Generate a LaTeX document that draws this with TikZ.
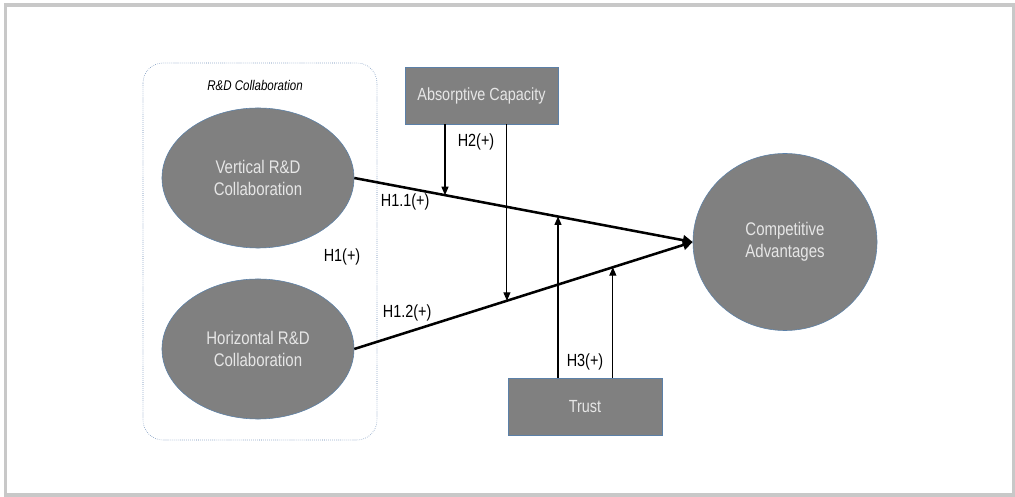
\documentclass[tikz,border=0pt]{standalone}
\usepackage{fontspec}
\setmainfont{Liberation Sans}[FakeStretch=0.82]
\usetikzlibrary{arrows.meta,shapes.geometric}
\definecolor{framegray}{HTML}{C8C8C8}
\definecolor{boxgray}{HTML}{808080}
\definecolor{edgeblue}{HTML}{5B80A8}
\definecolor{dotblue}{HTML}{5F82B0}
\definecolor{lighttext}{HTML}{E6E6E6}

\begin{document}
\begin{tikzpicture}[x=0.025cm,y=-0.025cm,
	construct/.style={draw=edgeblue,fill=boxgray,ellipse,text=lighttext,align=center,font=\fontsize{13}{15.6}\selectfont},
	measure/.style={draw=edgeblue,fill=boxgray,rectangle,text=lighttext,font=\fontsize{12.5}{15}\selectfont},
	hyp/.style={font=\fontsize{12.5}{14}\selectfont},
	main/.style={line width=1.8pt,-{Triangle[length=7pt,width=7pt]}},
	mod/.style={line width=0.8pt,-{Triangle[length=6pt,width=5pt]}}]
	\useasboundingbox (0,0) rectangle (1015,497);
	\draw[framegray,line width=2.2pt] (5.5,5) rectangle (1013.5,495);
	\draw[dotblue,densely dotted,rounded corners=0.5cm] (143,63) rectangle (377,440);
	\node[font=\itshape\fontsize{10}{12}\selectfont] (title) at (255,85) {R\&D Collaboration};

	\node[construct,minimum width=4.8cm,minimum height=3.5cm] (v) at (258,178) {Vertical R\&D\\Collaboration};
	\node[construct,minimum width=4.8cm,minimum height=3.5cm] (h) at (258,349) {Horizontal R\&D\\Collaboration};
	\node[construct,minimum width=4.6cm,minimum height=4.425cm] (ca) at (785,242) {Competitive\\Advantages};
	\node[measure,minimum width=3.825cm,minimum height=1.425cm] (ac) at (481.5,95.5) {Absorptive Capacity};
	\node[measure,minimum width=3.85cm,minimum height=1.425cm] (tr) at (585,406.5) {Trust};

	\draw[main] (v.east) -- (ca.west) coordinate[pos=0.268] (p1) coordinate[pos=0.602] (p3);
	\draw[main] (h.east) -- (ca.west) coordinate[pos=0.451] (p2) coordinate[pos=0.764] (p4);
	\draw[mod] (ac.south -| p1) -- (p1);
	\draw[mod] (ac.south -| p2) -- (p2);
	\draw[mod] (tr.north -| p3) -- (p3);
	\draw[mod] (tr.north -| p4) -- (p4);

	\node[hyp] (h2) at (476,142) {H2(+)};
	\node[hyp,anchor=west] (h11) at (376,202) {H1.1(+)};
	\node[hyp] (h1) at (342,257) {H1(+)};
	\node[hyp,anchor=west] (h12) at (378,313) {H1.2(+)};
	\node[hyp] (h3) at (585,362) {H3(+)};
\end{tikzpicture}
\end{document}
